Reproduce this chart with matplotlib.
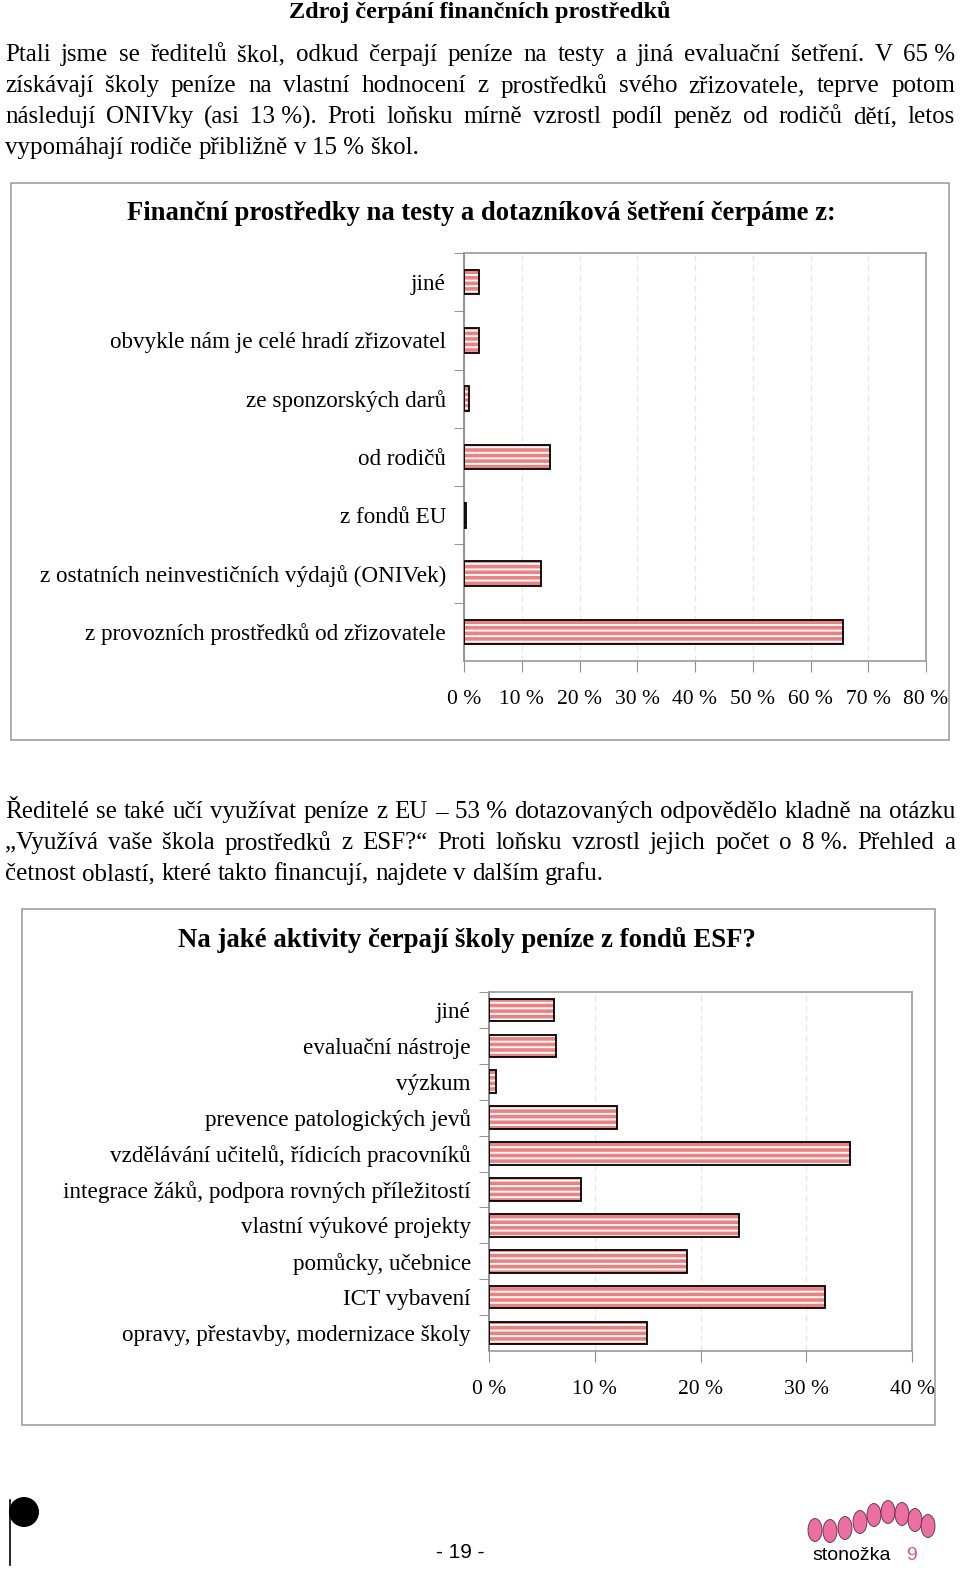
import matplotlib
matplotlib.use("Agg")
import matplotlib.pyplot as plt
from matplotlib.patches import Rectangle, Circle, Ellipse

W, H = 960, 1570

heading = "Zdroj čerpání finančních prostředků"
# \u00a0 keeps numbers and % signs together when justifying
para1 = [
    "Ptali jsme se ředitelů škol, odkud čerpají peníze na testy a jiná evaluační šetření. V 65\u00a0%",
    "získávají školy peníze na vlastní hodnocení z prostředků svého zřizovatele, teprve potom",
    "následují ONIVky (asi 13\u00a0%). Proti loňsku mírně vzrostl podíl peněz od rodičů dětí, letos",
    "vypomáhají rodiče přibližně v 15\u00a0% škol.",
]
para2 = [
    "Ředitelé se také učí využívat peníze z EU – 53\u00a0% dotazovaných odpovědělo kladně na otázku",
    "„Využívá vaše škola prostředků z ESF?“ Proti loňsku vzrostl jejich počet o 8\u00a0%. Přehled a",
    "četnost oblastí, které takto financují, najdete v dalším grafu.",
]

title1 = "Finanční prostředky na testy a dotazníková šetření čerpáme z:"
cats1 = ["jiné", "obvykle nám je celé hradí zřizovatel", "ze sponzorských darů",
         "od rodičů", "z fondů EU", "z ostatních neinvestičních výdajů (ONIVek)",
         "z provozních prostředků od zřizovatele"]
vals1 = [2.6, 2.6, 0.9, 14.9, 0.3, 13.3, 65.6]
ticks1 = [0, 10, 20, 30, 40, 50, 60, 70, 80]

title2 = "Na jaké aktivity čerpají školy peníze z fondů ESF?"
cats2 = ["jiné", "evaluační nástroje", "výzkum", "prevence patologických jevů",
         "vzdělávání učitelů, řídicích pracovníků",
         "integrace žáků, podpora rovných příležitostí", "vlastní výukové projekty",
         "pomůcky, učebnice", "ICT vybavení", "opravy, přestavby, modernizace školy"]
vals2 = [6.1, 6.3, 0.7, 12.1, 34.1, 8.7, 23.6, 18.7, 31.8, 14.9]
ticks2 = [0, 10, 20, 30, 40]

SERIF = ["Liberation Serif", "DejaVu Serif"]
SANS = ["Liberation Sans", "DejaVu Sans"]
BAR = "#f08080"
BODY = 18
plt.rcParams["hatch.linewidth"] = 1.4

fig = plt.figure(figsize=(W / 100, H / 100), dpi=100)
renderer = fig.canvas.get_renderer()


def fx(x):
    return x / W


def fy(y):
    return 1 - y / H


def rect(x0, y0, x1, y1):
    return [fx(x0), fy(y1), (x1 - x0) / W, (y1 - y0) / H]


def text_width(s, size):
    t = fig.text(0, 0, s, fontsize=size, family=SERIF)
    w = t.get_window_extent(renderer).width
    t.remove()
    return w


def justify(line, y, x0=5, x1=955, last=False, size=BODY):
    words = line.split(" ")
    ts = [fig.text(0, fy(y), w, fontsize=size, family=SERIF, va="center") for w in words]
    widths = [t.get_window_extent(renderer).width for t in ts]
    if last or len(words) < 2:
        gap = text_width("a a", size) - text_width("aa", size)
    else:
        gap = (x1 - x0 - sum(widths)) / (len(words) - 1)
    x = x0
    for t, w in zip(ts, widths):
        t.set_x(fx(x))
        x += w + gap


def frame(x0, y0, x1, y1):
    fig.patches.append(Rectangle((fx(x0), fy(y1)), (x1 - x0) / W, (y1 - y0) / H,
                                 transform=fig.transFigure, fill=False,
                                 edgecolor="#a0a0a0", linewidth=1.2))


def bar_chart(box, cats, vals, ticks, height, label_size=16.7, tick_size=15.5):
    ax = fig.add_axes(rect(*box))
    pos = list(range(len(cats)))
    ax.barh(pos, vals, height=height, color=BAR, edgecolor="white", hatch="---",
            linewidth=0, zorder=2)
    ax.barh(pos, vals, height=height, fill=False, edgecolor="black", linewidth=1.3, zorder=3)
    ax.set_xlim(ticks[0], ticks[-1])
    ax.set_ylim(len(cats) - 0.5, -0.5)
    ax.set_xticks(ticks)
    ax.set_xticklabels([f"{t} %" for t in ticks], fontsize=tick_size, family=SERIF)
    ax.set_yticks(pos)
    ax.set_yticklabels(cats, fontsize=label_size, family=SERIF)
    ax.set_yticks([p + 0.5 for p in pos[:-1]] + [-0.5], minor=True)
    ax.tick_params(axis="y", which="major", length=0, pad=13)
    ax.tick_params(axis="y", which="minor", length=7, color="#808080")
    ax.tick_params(axis="x", length=8, color="#909090", pad=13)
    ax.grid(axis="x", color="#e6e6e6", linestyle=(0, (5, 3)), linewidth=0.9, zorder=0)
    for s in ax.spines.values():
        s.set_color("#9a9a9a")
        s.set_linewidth(1.2)
    ax.spines["left"].set_color("#808080")
    return ax


# page text
fig.text(fx(480), fy(12), heading, fontsize=17.5, family=SERIF, weight="bold",
         ha="center", va="center")
for i, line in enumerate(para1):
    justify(line, 55 + i * 31, last=(i == len(para1) - 1))
for i, line in enumerate(para2):
    justify(line, 812 + i * 31, last=(i == len(para2) - 1))

# chart 1
frame(11, 183, 949, 740)
fig.text(fx(481), fy(214), title1, fontsize=19.2, family=SERIF, weight="bold",
         ha="center", va="center")
bar_chart((464, 253, 926, 661), cats1, vals1, ticks1, 0.42)

# chart 2
frame(22, 909, 935, 1425)
fig.text(fx(467), fy(940), title2, fontsize=19.3, family=SERIF, weight="bold",
         ha="center", va="center")
bar_chart((489, 992, 912, 1351), cats2, vals2, ticks2, 0.63)

# footer
fig.text(fx(460), fy(1553), "- 19 -", fontsize=15, family=SANS, ha="center", va="center")
fig.text(fx(812), fy(1556), "stonožka", fontsize=14, family=SANS, ha="left", va="center")
fig.text(fx(906), fy(1556), "9", fontsize=14, family=SANS, color="#d9558c",
         ha="left", va="center")
for cx, cy in [(815, 1530), (830, 1531), (845, 1528), (860, 1522), (874, 1515),
               (888, 1512), (902, 1514), (915, 1520), (928, 1526)]:
    fig.patches.append(Circle((fx(cx), fy(cy)), 7 / W, transform=fig.transFigure,
                              facecolor="#ec6fa4", edgecolor="#5a2a3c", linewidth=0.6))
fig.patches.append(Ellipse((fx(24), fy(1512)), 30 / W, 30 / H, transform=fig.transFigure,
                           facecolor="black"))
fig.lines.append(plt.Line2D([fx(10), fx(10)], [fy(1500), fy(1565)],
                            transform=fig.transFigure, color="black", linewidth=1.2))

fig.savefig("out.png", dpi=100)
